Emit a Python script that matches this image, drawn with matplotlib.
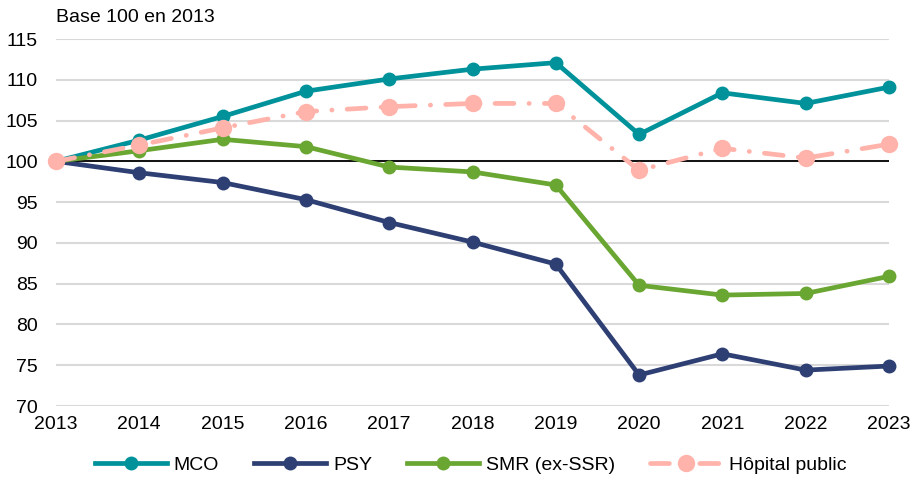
import matplotlib
matplotlib.use("Agg")
import matplotlib.pyplot as plt

plt.rcParams['font.family'] = ['Liberation Sans', 'DejaVu Sans']

years = [2013, 2014, 2015, 2016, 2017, 2018, 2019, 2020, 2021, 2022, 2023]
mco = [100, 102.6, 105.5, 108.6, 110.1, 111.3, 112.1, 103.3, 108.4, 107.1, 109.1]
psy = [100, 98.6, 97.4, 95.3, 92.5, 90.1, 87.4, 73.8, 76.4, 74.4, 74.9]
smr = [100, 101.3, 102.7, 101.8, 99.3, 98.7, 97.1, 84.8, 83.6, 83.8, 85.9]
hop = [100, 102.0, 104.1, 106.1, 106.7, 107.1, 107.1, 98.9, 101.6, 100.4, 102.1]
yticks = [70, 75, 80, 85, 90, 95, 100, 105, 110, 115]

W, H = 916, 480
fig = plt.figure(figsize=(W / 100, H / 100), dpi=100)
ax = fig.add_axes([56 / W, 1 - 406 / H, (889 - 56) / W, (406 - 39) / H])

for y in yticks:
    ax.axhline(y, color='#D9D9D9', lw=1.5, zorder=0)
ax.axhline(100, color='black', lw=1.3, zorder=1)

ax.plot(years, mco, color='#00929A', lw=3.4, marker='o', ms=9, label='MCO', zorder=3, clip_on=False)
ax.plot(years, psy, color='#2E3F74', lw=3.4, marker='o', ms=9, label='PSY', zorder=3, clip_on=False)
ax.plot(years, smr, color='#6AA632', lw=3.4, marker='o', ms=9, label='SMR (ex-SSR)', zorder=3, clip_on=False)
l, = ax.plot(years, hop, color='#FFB3AA', lw=3.4, marker='o', ms=11.5, label='Hôpital public',
             zorder=4, clip_on=False, dash_capstyle='round')
l.set_dashes((4.0, 3.2, 0.05, 3.2))

ax.set_xlim(2013, 2023)
ax.set_ylim(70, 115)
ax.set_xticks(years)
ax.set_yticks(yticks)
for s in ax.spines.values():
    s.set_visible(False)
ax.tick_params(length=0, labelsize=14, colors='black')
ax.tick_params(axis='x', pad=7)
ax.tick_params(axis='y', pad=13)

fig.text(56 / W, 1 - 17 / H, 'Base 100 en 2013', fontsize=14, va='center', ha='left')

fig.legend(loc='center', bbox_to_anchor=(0.5137, 1 - 465 / H), ncol=4, frameon=False,
           fontsize=14, handlelength=3.7, handletextpad=0.35, columnspacing=1.8)

fig.savefig('out.png', dpi=100)
